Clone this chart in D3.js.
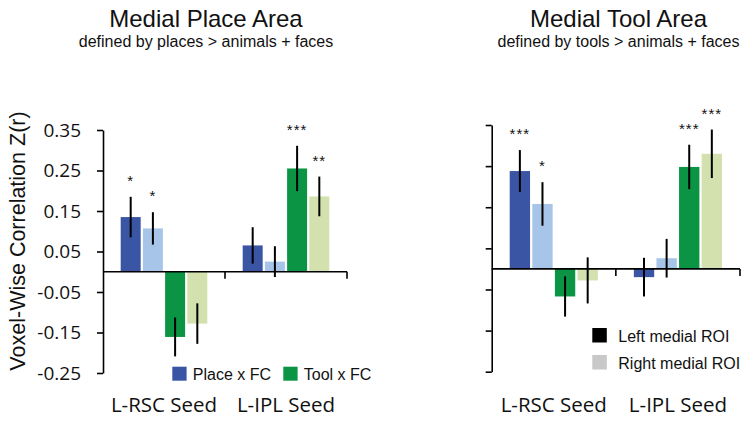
<!DOCTYPE html>
<html><head><meta charset="utf-8">
<script src="https://cdn.jsdelivr.net/npm/d3@7"></script>
<style>body{margin:0;background:#fff} svg{display:block}</style>
</head><body><svg id="c" width="751" height="422"></svg>
<script>
const seeds = ["L-RSC Seed", "L-IPL Seed"];
const series = ["Place x FC (left)", "Place x FC (right)", "Tool x FC (left)", "Tool x FC (right)"];
const seriesColors = ["#3a55a4", "#a7c5e8", "#0b9444", "#d2e1ae"];
const yTicks = [0.35, 0.25, 0.15, 0.05, -0.05, -0.15, -0.25];
// Medial Place Area
const placeValues = [[0.135, 0.107, -0.161, -0.128], [0.065, 0.025, 0.255, 0.186]];
const placeErrors = [[0.050, 0.040, 0.048, 0.050], [0.045, 0.038, 0.056, 0.049]];
const placeStars = [["*", "*", "", ""], ["", "", "***", "**"]];
// Medial Tool Area
const toolValues = [[0.238, 0.158, -0.067, -0.028], [-0.020, 0.026, 0.248, 0.280]];
const toolErrors = [[0.051, 0.053, 0.049, 0.056], [0.047, 0.047, 0.054, 0.059]];
const toolStars = [["***", "*", "", ""], ["", "", "***", "***"]];
const legendFC = ["Place x FC", "Tool x FC"];
const legendROI = ["Left medial ROI", "Right medial ROI"];
const legendROIColors = ["#000000", "#c8c8c8"];

const svg = d3.select("#c");
const SANS = "'Liberation Sans', Arial, sans-serif";
const OPEN = "'Open Sans', 'Noto Sans', sans-serif";

function panel(opt) {
  const g = svg.append("g");
  const y = d3.scaleLinear().domain([-0.25, 0.35]).range([opt.yBot, opt.yTop]);
  const x0 = d3.scaleBand().domain(seeds).range([opt.xLeft, opt.xRight]).padding(0);
  const bw = x0.bandwidth();
  const span = bw * 0.71;
  const x1 = d3.scaleBand().domain(series).range([(bw - span) / 2, (bw + span) / 2]).paddingInner(0.1).paddingOuter(0);

  const rows = [];
  seeds.forEach((s, i) => series.forEach((k, j) => rows.push({
    seed: s, key: k, j: j, v: opt.values[i][j], e: opt.errors[i][j], star: opt.stars[i][j]
  })));

  g.selectAll("rect.bar").data(rows).join("rect").attr("class", "bar")
    .attr("x", d => x0(d.seed) + x1(d.key))
    .attr("width", x1.bandwidth())
    .attr("y", d => y(Math.max(0, d.v)))
    .attr("height", d => Math.abs(y(d.v) - y(0)))
    .attr("fill", d => seriesColors[d.j]);

  g.selectAll("line.err").data(rows).join("line").attr("class", "err")
    .attr("x1", d => x0(d.seed) + x1(d.key) + x1.bandwidth() / 2)
    .attr("x2", d => x0(d.seed) + x1(d.key) + x1.bandwidth() / 2)
    .attr("y1", d => y(d.v + d.e)).attr("y2", d => y(d.v - d.e))
    .attr("stroke", "#000").attr("stroke-width", 2);

  g.selectAll("text.star").data(rows.filter(d => d.star)).join("text").attr("class", "star")
    .attr("x", d => x0(d.seed) + x1(d.key) + x1.bandwidth() / 2)
    .attr("y", d => y(d.v + d.e) - 11)
    .attr("text-anchor", "middle")
    .attr("font-family", SANS).attr("font-size", 15).attr("letter-spacing", 1)
    .attr("fill", "#111")
    .text(d => d.star);

  const ax = d3.axisLeft(y).tickValues(yTicks).tickSize(6).tickSizeOuter(0).tickPadding(16)
    .tickFormat(d => opt.labels ? d3.format(".2f")(d).replace("\u2212", "-") : "");
  const ag = g.append("g").attr("transform", `translate(${opt.xLeft},0)`).call(ax);
  ag.select(".domain").attr("stroke", "#000").attr("stroke-width", 1.6);
  ag.selectAll(".tick line").attr("stroke", "#000").attr("stroke-width", 1.6);
  ag.selectAll(".tick text").attr("font-family", OPEN).attr("font-size", 19).attr("fill", "#111");

  g.append("line").attr("x1", opt.xLeft).attr("x2", opt.xRight)
    .attr("y1", y(0)).attr("y2", y(0)).attr("stroke", "#000").attr("stroke-width", 1.6);
  g.selectAll("line.gt").data(seeds).join("line").attr("class", "gt")
    .attr("x1", d => x0(d) + bw).attr("x2", d => x0(d) + bw)
    .attr("y1", y(0)).attr("y2", y(0) + 7).attr("stroke", "#000").attr("stroke-width", 1.6);

  g.selectAll("text.cat").data(seeds).join("text").attr("class", "cat")
    .attr("x", d => x0(d) + bw / 2).attr("y", 411.5)
    .attr("text-anchor", "middle").attr("font-family", OPEN).attr("font-size", 20.5)
    .attr("fill", "#111").text(d => d);

  g.append("text").attr("x", opt.titleX).attr("y", 27).attr("text-anchor", "middle")
    .attr("font-family", SANS).attr("font-size", 24).attr("fill", "#111").text(opt.title);
  g.append("text").attr("x", opt.titleX).attr("y", 47).attr("text-anchor", "middle")
    .attr("font-family", SANS).attr("font-size", 16).attr("fill", "#111").text(opt.subtitle);
  return g;
}

panel({xLeft: 103, xRight: 347, yTop: 130, yBot: 373, values: placeValues, errors: placeErrors,
  stars: placeStars, labels: true, titleX: 206, title: "Medial Place Area",
  subtitle: "defined by places > animals + faces"});
panel({xLeft: 491.7, xRight: 740, yTop: 125, yBot: 371.7, values: toolValues, errors: toolErrors,
  stars: toolStars, labels: false, titleX: 618.5, title: "Medial Tool Area",
  subtitle: "defined by tools > animals + faces"});

svg.append("text").attr("transform", "translate(25,241) rotate(-90)")
  .attr("text-anchor", "middle").attr("font-family", SANS).attr("font-size", 21.5)
  .attr("fill", "#111").text("Voxel-Wise Correlation Z(r)");

const lg = svg.append("g");
const fcX = [172.3, 283.3];
lg.selectAll("rect").data(legendFC).join("rect")
  .attr("x", (d, i) => fcX[i]).attr("y", 366.7).attr("width", 14.3).attr("height", 14)
  .attr("fill", (d, i) => seriesColors[i * 2]);
lg.selectAll("text").data(legendFC).join("text")
  .attr("x", (d, i) => fcX[i] + 20.5).attr("y", 380)
  .attr("font-family", SANS).attr("font-size", 16).attr("fill", "#111").text(d => d);

const lr = svg.append("g");
const roiY = [328, 355];
lr.selectAll("rect").data(legendROI).join("rect")
  .attr("x", 592.3).attr("y", (d, i) => roiY[i]).attr("width", 14.5).attr("height", 14.5)
  .attr("fill", (d, i) => legendROIColors[i]);
lr.selectAll("text").data(legendROI).join("text")
  .attr("x", 618.3).attr("y", (d, i) => roiY[i] + 14)
  .attr("font-family", SANS).attr("font-size", 16).attr("fill", "#111").text(d => d);
</script></body></html>
